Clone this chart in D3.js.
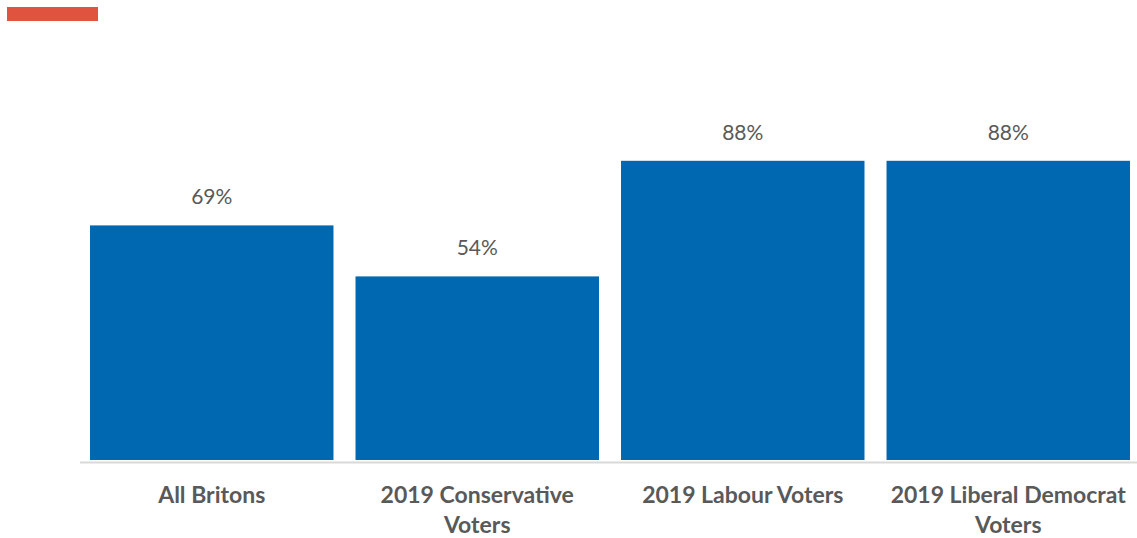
<!DOCTYPE html>
<html>
<head>
<meta charset="utf-8">
<script src="https://cdn.jsdelivr.net/npm/d3@7"></script>
<style>
  body { margin: 0; background: #fff; }
  svg { display: block; font-family: "Source Sans Pro", Lato, "Open Sans", sans-serif; }
</style>
</head>
<body>
<div id="chart"></div>
<script>
var categories = ["All Britons", "2019 Conservative Voters", "2019 Labour Voters", "2019 Liberal Democrat Voters"];
var values = [69, 54, 88, 88];
var valueLabels = ["69%", "54%", "88%", "88%"];

var width = 1137, height = 538;

var svg = d3.select("#chart").append("svg")
    .attr("width", width)
    .attr("height", height);

// red tag top-left
svg.append("rect")
    .attr("x", 7).attr("y", 7)
    .attr("width", 91).attr("height", 14)
    .attr("fill", "#e0533e");

var x = d3.scaleBand()
    .domain(categories)
    .range([90, 1130])
    .paddingInner(0.083)
    .paddingOuter(0);

var y = d3.scaleLinear()
    .domain([0, 100])
    .range([460, 120]);

svg.selectAll(".bar")
    .data(values)
  .enter().append("rect")
    .attr("class", "bar")
    .attr("x", function(d, i) { return x(categories[i]); })
    .attr("y", function(d) { return y(d); })
    .attr("width", x.bandwidth())
    .attr("height", function(d) { return y(0) - y(d); })
    .attr("fill", "#0067b1");

// baseline
svg.append("line")
    .attr("x1", 80).attr("x2", width)
    .attr("y1", 462.5).attr("y2", 462.5)
    .attr("stroke", "#d9d9d9")
    .attr("stroke-width", 2);

svg.selectAll(".val")
    .data(values)
  .enter().append("text")
    .attr("class", "val")
    .attr("text-anchor", "middle")
    .attr("x", function(d, i) { return x(categories[i]) + x.bandwidth() / 2; })
    .attr("y", function(d) { return y(d) - 21; })
    .attr("font-size", 21)
    .attr("fill", "#595959")
    .text(function(d, i) { return valueLabels[i]; });

// category labels, wrapped
var cat = svg.selectAll(".cat")
    .data(categories)
  .enter().append("text")
    .attr("class", "cat")
    .attr("text-anchor", "middle")
    .attr("font-size", 23)
    .attr("font-weight", "bold")
    .attr("fill", "#595959")
    .attr("x", function(d) { return x(d) + x.bandwidth() / 2; })
    .attr("y", 503);

cat.each(function(d) {
  var el = d3.select(this);
  var words = d.split(" ");
  var line = [];
  var cx = x(d) + x.bandwidth() / 2;
  var tspan = el.append("tspan").attr("x", cx).attr("dy", 0);
  words.forEach(function(w) {
    line.push(w);
    tspan.text(line.join(" "));
    if (tspan.node().getComputedTextLength() > x.bandwidth() - 4 && line.length > 1) {
      line.pop();
      tspan.text(line.join(" "));
      line = [w];
      tspan = el.append("tspan").attr("x", cx).attr("dy", 30).text(w);
    }
  });
});
</script>
</body>
</html>
